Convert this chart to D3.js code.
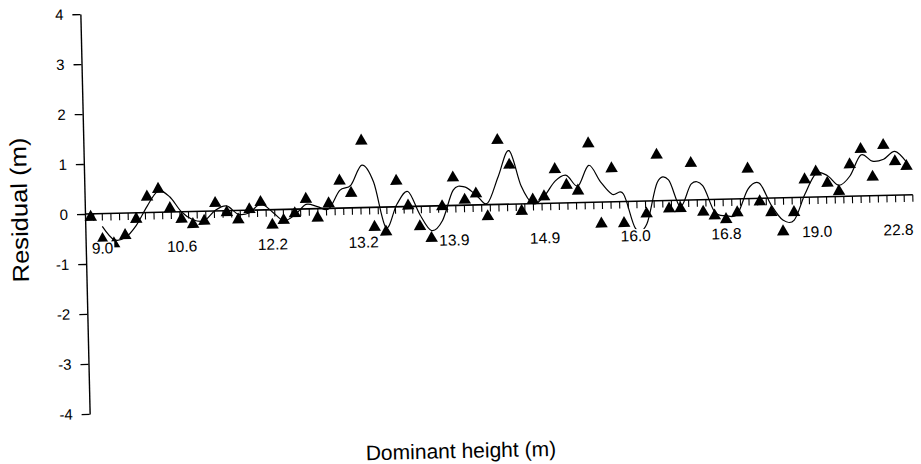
<!DOCTYPE html>
<html><head><meta charset="utf-8">
<script src="https://cdn.jsdelivr.net/npm/d3@7"></script>
<style>
body{margin:0;background:#fff}
svg{display:block}
text{font-family:"Liberation Sans",Arial,Helvetica,sans-serif;fill:#000}
</style>
</head><body>
<svg id="chart" width="921" height="464"></svg>
<script>
// ---- data ----
const observations = d3.range(1, 74);   // 73 stands, sorted by dominant height
const residuals = [
  -0.03, -0.48, -0.57, -0.41, -0.09, 0.35, 0.50, 0.11, -0.11, -0.22,
  -0.16, 0.19, 0.00, -0.15, 0.05, 0.19, -0.27, -0.18, -0.05, 0.23,
  -0.15, 0.13, 0.58, 0.33, 1.37, -0.36, -0.46, 0.55, 0.05, -0.37,
  -0.61, 0.02, 0.59, 0.14, 0.26, -0.20, 1.32, 0.82, -0.11, 0.11,
  0.17, 0.71, 0.39, 0.27, 1.21, -0.40, 0.70, -0.40, -0.70, -0.22,
  0.95, -0.13, -0.13, 0.77, -0.21, -0.29, -0.37, -0.24, 0.63, -0.03,
  -0.25, -0.64, -0.26, 0.39, 0.54, 0.31, 0.14, 0.67, 0.97, 0.41,
  1.04, 0.71, 0.61
];
const labelEvery = 8;
const heightLabels = ["9.0","10.6","12.2","13.2","13.9","14.9","16.0","16.8","19.0","22.8"];
const yTicks = [-4, -3, -2, -1, 0, 1, 2, 3, 4];
const minorTickCount = 96;
const movingAveragePeriod = 2;   // moving-average trendline of the residuals

// ---- layout ----
const W = 921, H = 464;
const origin = {x: 85, y: 214};
const tilt = -1.33;            // the scanned figure is slightly rotated
const axisLen = 828, halfH = 200;

const svg = d3.select("#chart");
svg.append("rect").attr("width", W).attr("height", H).attr("fill", "#fff");
const g = svg.append("g")
  .attr("transform", `translate(${origin.x},${origin.y}) rotate(${tilt})`);

const x = d3.scaleBand().domain(observations).range([0, axisLen]);
const cx = d => x(d) + x.bandwidth() / 2;
const y = d3.scaleLinear().domain([-4, 4]).range([halfH, -halfH]);
const tickScale = d3.scaleLinear().domain([0, minorTickCount]).range([0, axisLen]);

// ---- y axis ----
const yAxis = d3.axisLeft(y).tickValues(yTicks).tickSize(8).tickSizeOuter(0)
  .tickPadding(9).tickFormat(d => String(d));
const ya = g.append("g").call(yAxis)
  .attr("font-family", "Liberation Sans, Arial, sans-serif")
  .attr("font-size", 15);
ya.select(".domain").attr("stroke", "#000").attr("stroke-width", 1.4);
ya.selectAll(".tick line").attr("stroke", "#000").attr("stroke-width", 1.3);
ya.selectAll(".tick text").attr("fill", "#000");

// ---- x axis (category axis across y = 0) ----
g.append("line").attr("x1", 0).attr("x2", axisLen).attr("y1", y(0)).attr("y2", y(0))
  .attr("stroke", "#000").attr("stroke-width", 1.6);
g.selectAll(".xtick").data(d3.range(1, minorTickCount + 1)).join("line")
  .attr("class", "xtick")
  .attr("x1", d => tickScale(d)).attr("x2", d => tickScale(d))
  .attr("y1", y(0)).attr("y2", y(0) + 7)
  .attr("stroke", "#000").attr("stroke-width", 1.1);

// ---- moving-average trendline ----
const trend = observations.slice(movingAveragePeriod - 1).map((d, i) => ({
  d, v: d3.mean(residuals.slice(i, i + movingAveragePeriod))
}));
const line = d3.line().x(p => cx(p.d)).y(p => y(p.v)).curve(d3.curveCardinal.tension(0));
g.append("path").datum(trend).attr("d", line)
  .attr("fill", "none").attr("stroke", "#000").attr("stroke-width", 1.2);

// ---- triangle markers ----
const triW = 12.5, triH = 11;
const boxTriangle = {draw(ctx) {
  ctx.moveTo(0, -triH / 2); ctx.lineTo(triW / 2, triH / 2);
  ctx.lineTo(-triW / 2, triH / 2); ctx.closePath();
}};
g.selectAll(".pt").data(observations).join("path")
  .attr("class", "pt")
  .attr("d", d3.symbol(boxTriangle))
  .attr("transform", d => `translate(${cx(d)},${y(residuals[d - 1])})`)
  .attr("fill", "#000");

// ---- category labels (opaque background, drawn on top) ----
const labelData = heightLabels.map((t, k) => ({t, obs: observations[k * labelEvery]}));
const lg = g.selectAll(".xl").data(labelData).join("g").attr("class", "xl");
lg.each(function(p) {
  const sel = d3.select(this);
  const rect = sel.append("rect").attr("fill", "#fff");
  const txt = sel.append("text").attr("text-anchor", "middle")
    .attr("font-size", 15.5).attr("y", y(0) + 40).text(p.t);
  const w = txt.node().getComputedTextLength();
  const px = Math.max(w / 2 + 6, Math.min(axisLen - w / 2, cx(p.obs)));
  txt.attr("x", px);
  rect.attr("x", px - w / 2 - 1).attr("width", w + 2)
    .attr("y", y(0) + 28).attr("height", 14);
});

// ---- titles ----
g.append("text")
  .attr("transform", "translate(-57.5,-5.5) rotate(-90)")
  .attr("text-anchor", "middle").attr("font-size", 23)
  .attr("textLength", 145).attr("lengthAdjust", "spacingAndGlyphs")
  .text("Residual (m)");
g.append("text")
  .attr("x", 370.3).attr("y", 252.7)
  .attr("text-anchor", "middle").attr("font-size", 21)
  .text("Dominant height (m)");
</script>
</body></html>
